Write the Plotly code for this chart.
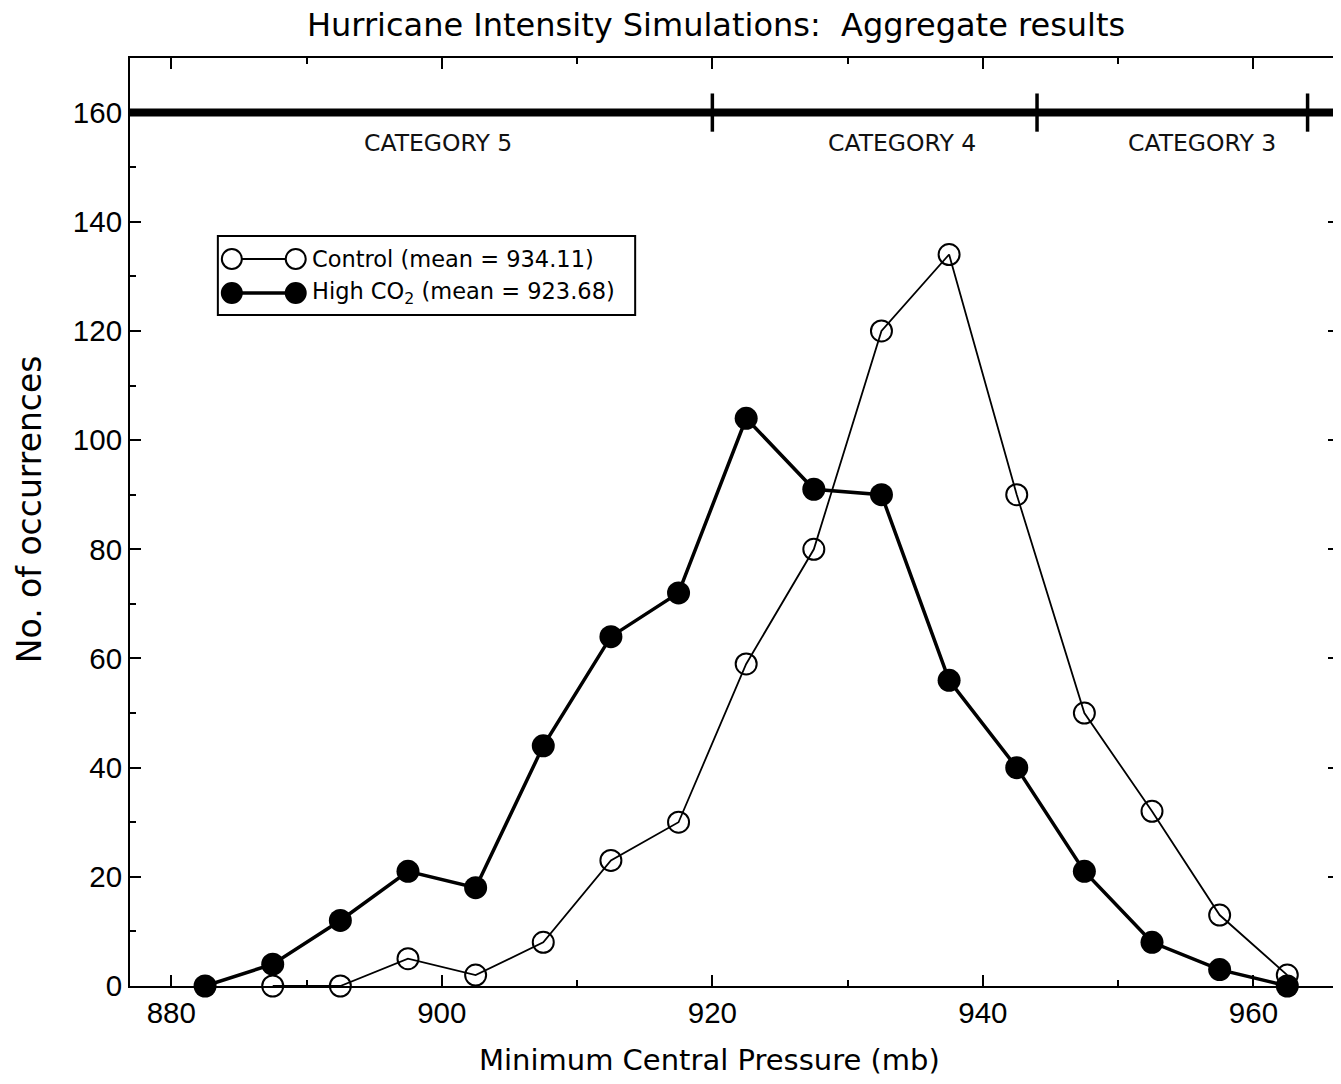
import plotly.graph_objects as go

# ---- data ----
pressure_bins = [882.5, 887.5, 892.5, 897.5, 902.5, 907.5, 912.5, 917.5, 922.5,
                 927.5, 932.5, 937.5, 942.5, 947.5, 952.5, 957.5, 962.5]
control_x = pressure_bins[1:]
control_counts = [0, 0, 5, 2, 8, 23, 30, 59, 80, 120, 134, 90, 50, 32, 13, 2]
highco2_x = pressure_bins
highco2_counts = [0, 4, 12, 21, 18, 44, 64, 72, 104, 91, 90, 56, 40, 21, 8, 3, 0]

category_bounds = [920, 944, 964]
category_labels = ["CATEGORY 5", "CATEGORY 4", "CATEGORY 3"]
category_label_x = [899.7, 934.0, 956.2]
category_level = 160

legend_labels = ["Control (mean = 934.11)", "High CO<sub>2</sub> (mean = 923.68)"]

x_ticks = [880, 900, 920, 940, 960]
y_ticks = [0, 20, 40, 60, 80, 100, 120, 140, 160]

OFF = 8  # page body margin
W, H = 1333, 1076
ML, MR, MT, MB = 122, 0, 50, 98
PW, PH = W - ML - MR, H - MT - MB
PLOT_LEFT = OFF + ML          # screen px of plot left edge
PLOT_BOTTOM = OFF + MT + PH   # screen px of plot bottom edge
XSCALE = 13.55                # px per mb
X0 = 876.95

TICKFONT = "Liberation Sans, Arial, Helvetica, sans-serif"
TEXTFONT = "DejaVu Sans, Verdana, sans-serif"

fig = go.Figure()

fig.add_trace(go.Scatter(
    x=control_x, y=control_counts, mode="lines+markers", name="Control",
    line=dict(color="black", width=1.8),
    marker=dict(symbol="circle-open", size=21, color="black", line=dict(width=2)),
    showlegend=False, cliponaxis=False))

fig.add_trace(go.Scatter(
    x=highco2_x, y=highco2_counts, mode="lines+markers", name="High CO2",
    line=dict(color="black", width=3.5),
    marker=dict(symbol="circle", size=23, color="black"),
    showlegend=False, cliponaxis=False))

shapes = []
annotations = []

# category band
shapes.append(dict(type="line", xref="paper", yref="y", x0=0, x1=1,
                   y0=category_level, y1=category_level,
                   line=dict(color="black", width=8)))
for b in category_bounds:
    shapes.append(dict(type="line", xref="x", yref="y", x0=b, x1=b,
                       y0=category_level - 3.5, y1=category_level + 3.5,
                       line=dict(color="black", width=3.5)))
for lbl, lx in zip(category_labels, category_label_x):
    annotations.append(dict(x=lx, y=154.5, xref="x", yref="y", text=lbl,
                            showarrow=False, font=dict(size=23.5, color="#111", family=TEXTFONT)))

# screen pixel layout converted to paper coords
def px(xp):
    return (xp - PLOT_LEFT) / PW

def py(yp):
    return (PLOT_BOTTOM - yp) / PH

# custom legend
shapes.append(dict(type="rect", xref="paper", yref="paper",
                   x0=px(218), x1=px(636), y0=py(315), y1=py(236),
                   line=dict(color="black", width=2), fillcolor="white", layer="above"))
rows = [259, 293]
for i, (ry, lbl) in enumerate(zip(rows, legend_labels)):
    shapes.append(dict(type="line", xref="paper", yref="paper",
                       x0=px(232), x1=px(296), y0=py(ry), y1=py(ry),
                       line=dict(color="black", width=1.8 if i == 0 else 3.5), layer="above"))
    for cx in (232, 296):
        shapes.append(dict(type="circle", xref="paper", yref="paper",
                           xsizemode="pixel", ysizemode="pixel",
                           xanchor=px(cx), yanchor=py(ry),
                           x0=-10, x1=10, y0=-10, y1=10,
                           line=dict(color="black", width=2),
                           fillcolor="white" if i == 0 else "black", layer="above"))
    annotations.append(dict(x=px(310), y=py(ry), xref="paper", yref="paper",
                            text=lbl, showarrow=False, xanchor="left", yanchor="middle",
                            font=dict(size=22.5, color="black", family=TEXTFONT)))

# chart title and axis titles
annotations.append(dict(x=px(717), y=py(25), xref="paper", yref="paper",
                        text="Hurricane Intensity Simulations:&nbsp; Aggregate results",
                        showarrow=False, xanchor="center", yanchor="middle",
                        font=dict(size=32, color="black", family=TEXTFONT)))
annotations.append(dict(x=px(710), y=py(1060), xref="paper", yref="paper",
                        text="Minimum Central Pressure (mb)", showarrow=False,
                        xanchor="center", yanchor="middle",
                        font=dict(size=29, color="black", family=TEXTFONT)))
annotations.append(dict(x=px(29), y=py(509), xref="paper", yref="paper",
                        text="No. of occurrences", showarrow=False, textangle=-90,
                        xanchor="center", yanchor="middle",
                        font=dict(size=33, color="black", family=TEXTFONT)))

axis_common = dict(
    showline=True, linecolor="black", linewidth=2, mirror="ticks",
    ticks="inside", ticklen=11, tickwidth=2, tickcolor="black",
    showgrid=False, zeroline=False,
    tickfont=dict(size=29.5, color="black", family=TICKFONT),
)

fig.update_layout(
    width=W, height=H,
    margin=dict(l=ML, r=MR, t=MT, b=MB),
    paper_bgcolor="white", plot_bgcolor="white",
    xaxis=dict(range=[X0, X0 + PW / XSCALE], tickvals=x_ticks,
               minor=dict(dtick=10, tick0=880, ticks="inside", ticklen=6, tickwidth=2, tickcolor="black"),
               **axis_common),
    yaxis=dict(range=[0, 170], tickvals=y_ticks,
               minor=dict(dtick=10, tick0=0, ticks="inside", ticklen=6, tickwidth=2, tickcolor="black"),
               **axis_common),
    shapes=shapes, annotations=annotations,
    font=dict(family=TEXTFONT, color="black"),
)

fig.write_html("out.html")
